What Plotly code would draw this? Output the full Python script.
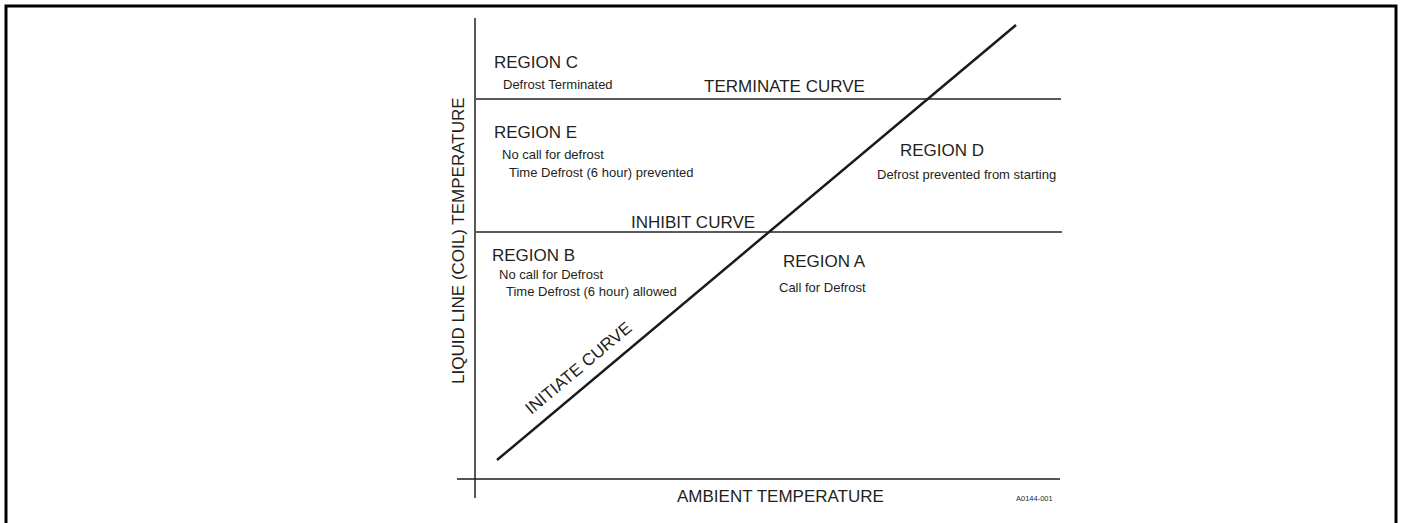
import plotly.graph_objects as go

# Coordinates: ambient (x) and coil (y) in arbitrary units, origin at axis crossing
# Axis extents
x_axis_ambient = [-18, 585]
x_axis_coil = [0, 0]
y_axis_ambient = [0, 0]
y_axis_coil = [461, -19]

# Curves
terminate_ambient = [0, 586]
terminate_coil = [380, 380]
inhibit_ambient = [0, 587]
inhibit_coil = [247, 247]
initiate_ambient = [22, 541]
initiate_coil = [19, 454]

# Region labels (left x, center y)
region_titles = ["REGION C", "REGION E", "REGION B", "REGION A", "REGION D"]
region_title_x = [17, 17, 15, 306, 423]
region_title_y = [417, 347, 224, 218, 329]

region_notes = [
    "Defrost Terminated",
    "No call for defrost",
    "Time Defrost (6 hour) prevented",
    "No call for Defrost",
    "Time Defrost (6 hour) allowed",
    "Call for Defrost",
    "Defrost prevented from starting",
]
region_note_x = [26, 25, 32, 22, 29, 302, 400]
region_note_y = [395, 325, 307, 205, 188, 192, 305]

curve_labels = ["TERMINATE CURVE", "INHIBIT CURVE"]
curve_label_x = [227, 154]
curve_label_y = [393, 257]

initiate_label = "INITIATE CURVE"
initiate_label_pos = (103, 111)
initiate_angle = -40

x_title = "AMBIENT TEMPERATURE"
x_title_pos = (200, -17)
y_title = "LIQUID LINE (COIL) TEMPERATURE"
y_title_pos = (-17, 238)
code_label = "A0144-001"
code_pos = (539, -19)

FONT = "Liberation Sans, Arial, sans-serif"
TXT = "#231f20"

fig = go.Figure()
fig.add_trace(go.Scatter(x=x_axis_ambient, y=x_axis_coil, mode="lines",
                         line=dict(color="#555555", width=2), hoverinfo="skip"))
fig.add_trace(go.Scatter(x=y_axis_ambient, y=y_axis_coil, mode="lines",
                         line=dict(color="#222222", width=1.5), hoverinfo="skip"))
fig.add_trace(go.Scatter(x=terminate_ambient, y=terminate_coil, mode="lines",
                         line=dict(color="#5a5a5a", width=2), hoverinfo="skip"))
fig.add_trace(go.Scatter(x=inhibit_ambient, y=inhibit_coil, mode="lines",
                         line=dict(color="#5a5a5a", width=2), hoverinfo="skip"))
fig.add_trace(go.Scatter(x=initiate_ambient, y=initiate_coil, mode="lines",
                         line=dict(color="#1a1a1a", width=2.5), hoverinfo="skip"))

ann = []
for t, x, y in zip(region_titles, region_title_x, region_title_y):
    ann.append(dict(x=x, y=y, text=t, showarrow=False, xanchor="left", yanchor="middle",
                    font=dict(size=17, color=TXT, family=FONT)))
for t, x, y in zip(region_notes, region_note_x, region_note_y):
    ann.append(dict(x=x, y=y, text=t, showarrow=False, xanchor="left", yanchor="middle",
                    font=dict(size=13, color=TXT, family=FONT)))
for t, x, y in zip(curve_labels, curve_label_x, curve_label_y):
    ann.append(dict(x=x, y=y, text=t, showarrow=False, xanchor="left", yanchor="middle",
                    font=dict(size=17, color=TXT, family=FONT)))
ann.append(dict(x=initiate_label_pos[0], y=initiate_label_pos[1], text=initiate_label,
                showarrow=False, xanchor="center", yanchor="middle", textangle=initiate_angle,
                font=dict(size=17, color=TXT, family=FONT)))
ann.append(dict(x=x_title_pos[0], y=x_title_pos[1], text=x_title, showarrow=False,
                xanchor="left", yanchor="middle", font=dict(size=17, color=TXT, family=FONT)))
ann.append(dict(x=y_title_pos[0], y=y_title_pos[1], text=y_title, showarrow=False,
                xanchor="center", yanchor="middle", textangle=-90,
                font=dict(size=17, color=TXT, family=FONT)))
ann.append(dict(x=code_pos[0], y=code_pos[1], text=code_label, showarrow=False,
                xanchor="left", yanchor="middle", font=dict(size=7.5, color=TXT, family=FONT)))

fig.update_layout(
    width=1404, height=523,
    margin=dict(l=0, r=0, t=0, b=0),
    paper_bgcolor="white", plot_bgcolor="white",
    showlegend=False,
    xaxis=dict(range=[-475, 929], visible=False, fixedrange=True),
    yaxis=dict(range=[-44, 479], visible=False, fixedrange=True),
    annotations=ann,
    shapes=[dict(type="rect", xref="x", yref="y", x0=-469, x1=921, y0=-80, y1=473,
                 line=dict(color="black", width=3), fillcolor="rgba(0,0,0,0)")],
)

fig.write_html("out.html", config={"displayModeBar": False},
               post_script="document.body.style.margin='0';document.body.style.overflow='hidden';")
